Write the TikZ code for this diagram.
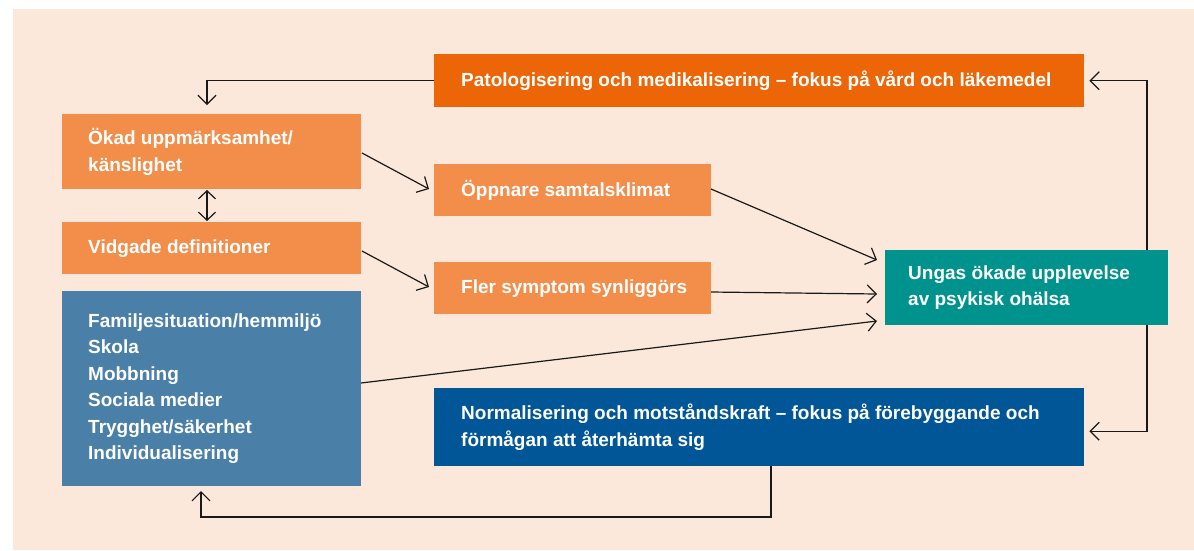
\documentclass[tikz,border=0pt]{standalone}
\usepackage{fontspec}
\setmainfont{Liberation Sans}
\usetikzlibrary{arrows.meta}
\definecolor{bgpeach}{HTML}{FCE8DB}
\definecolor{darkorange}{HTML}{EC6608}
\definecolor{lightorange}{HTML}{F28D4A}
\definecolor{greyblue}{HTML}{4A7FA8}
\definecolor{tealc}{HTML}{00938E}
\definecolor{darkblue}{HTML}{005696}
\begin{document}
\begin{tikzpicture}[x=1pt,y=-1pt,
  boxst/.style={fill=#1, draw=none, anchor=north west, inner sep=0pt},
  txt/.style={text=white, font=\fontsize{19}{26.5}\selectfont\bfseries, anchor=west, align=left, inner sep=0pt},
  conn/.style={draw=black!90, line width=1.2pt, -{Straight Barb[length=9pt,width=18pt,line width=1.2pt]}},
  dconn/.style={draw=black!90, line width=1.2pt, {Straight Barb[length=8pt,width=17pt,line width=1.2pt]}-{Straight Barb[length=8pt,width=17pt,line width=1.2pt]}}
]
\useasboundingbox (0,0) rectangle (1194,550);
\fill[bgpeach] (13,9) rectangle (1194,550);

\node[boxst=darkorange, minimum width=650pt, minimum height=53pt] (pat) at (434,54) {};
\node[txt] (patT) at ([xshift=27pt]pat.west) {Patologisering och medikalisering – fokus på vård och läkemedel};

\node[boxst=lightorange, minimum width=299pt, minimum height=75pt] (oka) at (62,114) {};
\node[txt] (okaT) at ([xshift=26pt]oka.west) {Ökad uppmärksamhet/\\känslighet};

\node[boxst=lightorange, minimum width=299pt, minimum height=52pt] (vid) at (62,222) {};
\node[txt] (vidT) at ([xshift=26pt]vid.west) {Vidgade definitioner};

\node[boxst=greyblue, minimum width=299pt, minimum height=195pt] (fam) at (62,291) {};
\node[txt] (famT) at ([xshift=26pt]fam.west) {Familjesituation/hemmiljö\\Skola\\Mobbning\\Sociala medier\\Trygghet/säkerhet\\Individualisering};

\node[boxst=lightorange, minimum width=277pt, minimum height=52pt] (opp) at (434,164) {};
\node[txt] (oppT) at ([xshift=27pt]opp.west) {Öppnare samtalsklimat};

\node[boxst=lightorange, minimum width=277pt, minimum height=52pt] (fle) at (434,262) {};
\node[txt] (fleT) at ([xshift=27pt]fle.west) {Fler symptom synliggörs};

\node[boxst=darkblue, minimum width=650pt, minimum height=78pt] (nor) at (434,388) {};
\node[txt] (norT) at ([xshift=27pt]nor.west) {Normalisering och motståndskraft – fokus på förebyggande och\\förmågan att återhämta sig};

% loop lines behind the teal box
\coordinate (rtop) at (1147,250);
\coordinate (rbot) at (1147,325);
\draw[conn] (rtop) |- ([xshift=5pt]pat.east);
\draw[conn] (rbot) |- ([xshift=5pt,yshift=-4pt]nor.east);

\node[boxst=tealc, minimum width=283pt, minimum height=75pt] (ung) at (885,250) {};
\node[txt] (ungT) at ([xshift=23pt]ung.west) {Ungas ökade upplevelse\\av psykisk ohälsa};

% connectors
\coordinate (okaIn) at (207,105);
\draw[conn] (pat.west) -| (okaIn);

\coordinate (famIn) at (201,491);
\coordinate (norOut) at (771,466);
\draw[conn] (norOut) -- (771,517) -| (famIn);

\draw[dconn] (207,190) -- (207,221);

\draw[conn] (362,153) -- (429,189);
\draw[conn] (362,251) -- (429,287);
\draw[conn] (711,189) -- (877,260);
\draw[conn] (711,292) -- (877,294);
\draw[conn] (361,383) -- (877,321);
\end{tikzpicture}
\end{document}
